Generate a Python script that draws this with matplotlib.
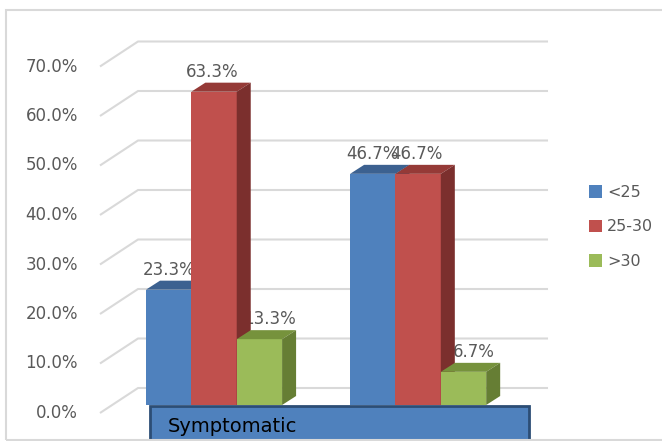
import matplotlib.pyplot as plt
from matplotlib.patches import Polygon, Rectangle, Patch

# data
category = "Symptomatic"
series_names = ["<25", "25-30", ">30"]
group1 = [23.3, 63.3, 13.3]
group2 = [46.7, 46.7, 6.7]
ticks = [0, 10, 20, 30, 40, 50, 60, 70]

front_cols = ["#4f81bd", "#c0504d", "#9bbb59"]
top_cols = ["#3c6190", "#953a37", "#76923c"]
side_cols = ["#37577f", "#7b2f2d", "#667e34"]
txt_col = "#595959"

fig = plt.figure(figsize=(6.62, 4.41), dpi=100)
ax = fig.add_axes([112/662, (441-405)/441, 410/662, 346.5/441])
ax.set_xlim(-2.25, 6.79)
ax.set_ylim(0, 70)
ax.axis("off")

# pixel -> data unit scale, used for the fake 3d depth
PX = 45.33
PY = 4.95
def off(dx, dy):
    return dx/PX, dy/PY

fx, fy = off(-12, -8)   # front edge of floor
bx, by = off(26, 17)    # back wall
dx, dy = off(14, 9)     # bar depth
x0, x1 = -2.25, 6.79

# gridlines drawn on the side + back wall
for v in ticks:
    ax.plot([x0+fx, x0+bx, x1+bx], [v+fy, v+by, v+by], color="#d9d9d9",
            lw=1.5, zorder=1, clip_on=False, solid_capstyle="butt")
    ax.text(x0+fx-22/PX, v+fy, "%.1f%%" % v, ha="right", va="center",
            fontsize=12, color=txt_col, clip_on=False)

centers = [0, 4.5]
nudge = [0, -0.04, 0.23]
for g, vals in zip(centers, [group1, group2]):
    for i, v in enumerate(vals):
        left = g + i - 1.5
        z = 3 + i
        ax.bar(left, v, width=1, align="edge", color=front_cols[i],
               zorder=z, clip_on=False)
        top = [(left, v), (left+dx, v+dy), (left+1+dx, v+dy), (left+1, v)]
        side = [(left+1, 0), (left+1, v), (left+1+dx, v+dy), (left+1+dx, dy)]
        ax.add_patch(Polygon(top, closed=True, fc=top_cols[i], ec="none",
                             zorder=z, clip_on=False))
        ax.add_patch(Polygon(side, closed=True, fc=side_cols[i], ec="none",
                             zorder=z, clip_on=False))
        ax.text(left+0.5+nudge[i], v+4.0, "%.1f%%" % v, ha="center",
                va="center", fontsize=12, color=txt_col, zorder=2.5,
                clip_on=False)

# category label box
ax.add_patch(Rectangle(((150-214)/PX, -10), (529-150)/PX, 10-1/PY,
                       fc="#4f81bd", ec="#2c4d75", lw=2, zorder=10,
                       clip_on=False))
ax.text((168-214)/PX, (405-427)/PY, category, ha="left", va="center",
        fontsize=14, color="black", zorder=11, clip_on=False)

# outer chart border (right side runs off the image)
fig.patches.append(Rectangle((6/662, 1-440/441), 670/662, 430/441,
                             transform=fig.transFigure, fill=False,
                             ec="#d9d9d9", lw=1.5))

handles = [Patch(fc=c, ec="none") for c in front_cols]
fig.legend(handles, series_names, loc="upper left",
           bbox_to_anchor=(589/662, 1-185/441), frameon=False,
           fontsize=11.5, labelcolor=txt_col, handlelength=0.8,
           handleheight=0.8, handletextpad=0.35, labelspacing=1.22,
           borderpad=0, borderaxespad=0)

fig.savefig("out.png", dpi=100)
